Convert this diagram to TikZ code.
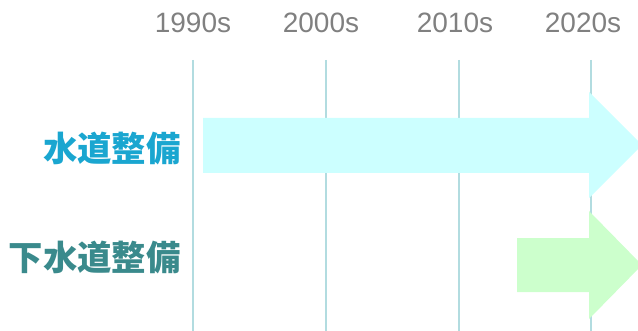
\documentclass[tikz,border=0pt]{standalone}
\usepackage{fontspec}
\setmainfont{Liberation Sans}
\newfontfamily\cjk{Noto Sans CJK JP}
\definecolor{gridc}{HTML}{B2DCE0}
\definecolor{yearc}{HTML}{808080}
\definecolor{waterc}{HTML}{1AA6D0}
\definecolor{sewerc}{HTML}{3A8A8C}
\definecolor{arrowa}{HTML}{CCFFFF}
\definecolor{arrowb}{HTML}{CCFFCC}
\begin{document}
\begin{tikzpicture}[x=0.75pt,y=-0.75pt,
  gridline/.style={draw=gridc,line width=1.5pt},
  year/.style={font=\fontsize{21}{25}\selectfont,text=yearc,inner sep=0pt},
  rowlabel/.style={font=\cjk\bfseries\fontsize{25.8}{30}\selectfont,anchor=east,inner sep=0pt},
  bigarrow/.style={draw=none}]
\useasboundingbox (0,0) rectangle (638,331);
\foreach \x/\lx/\n/\t in {193/193/a/1990s,326/321/b/2000s,459/455/c/2010s,591/583/d/2020s}{
  \node[year] (y\n) at (\lx,23) {\t};
  \coordinate (top\n) at (\x,60);
  \coordinate (bot\n) at (\x,331);
  \draw[gridline] (top\n) -- (bot\n);
}
\fill[arrowa] (203,118) -- (589,118) -- (589,92) -- (642,145) -- (589,198) -- (589,173) -- (203,173) -- cycle;
\fill[arrowb] (517,238) -- (589,238) -- (589,211) -- (642,265) -- (589,319) -- (589,292) -- (517,292) -- cycle;
\node[rowlabel,text=waterc] (water) at (181,148) {水道整備};
\node[rowlabel,text=sewerc] (sewer) at (181,257) {下水道整備};
\end{tikzpicture}
\end{document}
